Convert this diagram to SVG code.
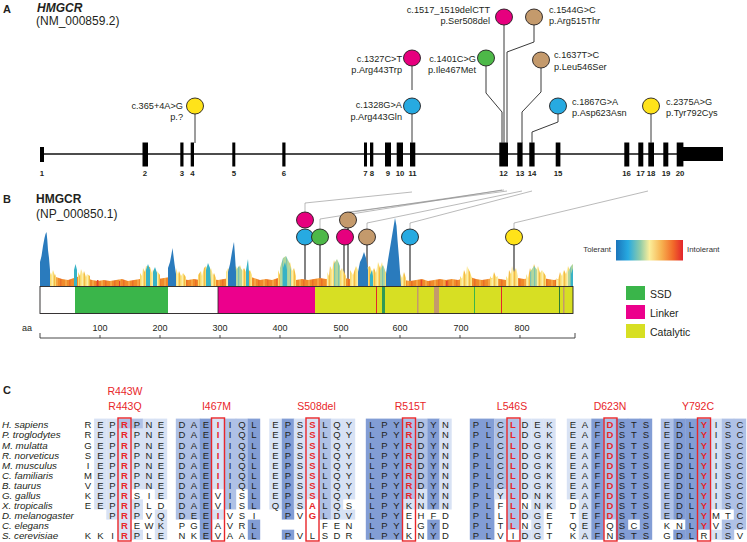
<svg xmlns="http://www.w3.org/2000/svg" width="747" height="542" viewBox="0 0 747 542">
<defs>
<linearGradient id="tol" x1="0" x2="1" y1="0" y2="0">
<stop offset="0" stop-color="#1B75BB"/><stop offset="0.18" stop-color="#27AAE1"/><stop offset="0.36" stop-color="#8ECBA9"/><stop offset="0.5" stop-color="#FBEE9B"/><stop offset="0.68" stop-color="#F7B250"/><stop offset="0.85" stop-color="#F26B2A"/><stop offset="1" stop-color="#E2242B"/>
</linearGradient>
<pattern id="orng" width="9" height="80" patternUnits="userSpaceOnUse"><rect width="9" height="80" fill="#F08A2A"/><rect x="2" width="2" height="80" fill="#F5A443"/><rect x="6" width="1.5" height="80" fill="#EA6F27"/></pattern>
<pattern id="yel" width="5" height="80" patternUnits="userSpaceOnUse"><rect width="5" height="80" fill="#F9DB6E"/><rect x="1.5" width="1.5" height="80" fill="#FCEDAA"/><rect x="4" width="1" height="80" fill="#F4B948"/></pattern>
<pattern id="grn" width="4" height="80" patternUnits="userSpaceOnUse"><rect width="4" height="80" fill="#B3D79C"/><rect x="2" width="1.2" height="80" fill="#7CC4B0"/></pattern>
</defs>
<style>
text{font-family:"Liberation Sans",Arial,sans-serif;fill:#231F20}
.lab{font-size:9.2px}
.end{text-anchor:end}
.num{font-size:7.8px;font-weight:bold;text-anchor:middle}
.ttl{font-size:12px;font-weight:bold}
.sub{font-size:12px}
.al{font-size:9.5px;text-anchor:middle}
.r{fill:#E8262A;font-weight:bold}
.sp{font-size:9.8px;font-style:italic}
.hd{font-size:10.5px;fill:#E8262A;text-anchor:middle}
.s1{fill:#D8E2F4}.s2{fill:#AFC1E6}.s3{fill:#829DD5}
.stem{fill:none;stroke:#3a3a3a;stroke-width:1}
.conn{fill:none;stroke:#8C8C8C;stroke-width:0.6}
.pin{stroke:#231F20;stroke-width:0.9}
.box{fill:none;stroke:#E8262A;stroke-width:1.4}
.ye{fill:#FFE31A}.mg{fill:#E6007E}.bl{fill:#27AAE1}.gr{fill:#4DB848}.br{fill:#C49A6C}
.tick{font-size:9px;text-anchor:middle}
.leg{font-size:10.5px}
.tl{font-size:7.8px;fill:#333}
</style>

<g id="titles">
<text x="3" y="13" class="ttl" style="font-size:11px">A</text>
<text x="37" y="12" class="ttl" style="font-style:italic">HMGCR</text>
<text x="36" y="25" class="sub">(NM_000859.2)</text>
<text x="3" y="203" class="ttl" style="font-size:11px">B</text>
<text x="36" y="203" class="ttl">HMGCR</text>
<text x="36" y="218" class="sub">(NP_000850.1)</text>
<text x="3" y="394" class="ttl" style="font-size:11px">C</text>
</g>

<g id="gene">
<line x1="42" y1="154" x2="683" y2="154" stroke="#111" stroke-width="1.3"/>
<g fill="#000">
<rect x="40" y="147" width="4" height="15"/>
<rect x="142.5" y="142.5" width="5.5" height="24"/>
<rect x="180.3" y="142.5" width="3.2" height="24"/>
<rect x="190.7" y="142.5" width="3.3" height="24"/>
<rect x="232.3" y="142.5" width="3" height="24"/>
<rect x="282.3" y="142.5" width="3.2" height="24"/>
<rect x="364" y="142.5" width="3" height="24"/>
<rect x="370" y="142.5" width="3.3" height="24"/>
<rect x="385" y="142.5" width="6" height="24"/>
<rect x="396.7" y="142.5" width="6.3" height="24"/>
<rect x="410" y="142.5" width="5.3" height="24"/>
<rect x="499.3" y="142.5" width="8.7" height="24"/>
<rect x="517.3" y="142.5" width="5.3" height="24"/>
<rect x="529.3" y="142.5" width="5.3" height="24"/>
<rect x="555.7" y="142.5" width="4.7" height="24"/>
<rect x="624.3" y="142.5" width="5" height="24"/>
<rect x="638.3" y="142.5" width="5" height="24"/>
<rect x="648.3" y="142.5" width="5.7" height="24"/>
<rect x="663.3" y="142.5" width="5" height="24"/>
<rect x="676.7" y="142.5" width="6.7" height="24"/>
<rect x="683" y="147" width="40" height="14"/>
</g>
<g>
<text class="num" x="42" y="176">1</text><text class="num" x="145" y="176">2</text><text class="num" x="182" y="176">3</text><text class="num" x="192.5" y="176">4</text><text class="num" x="234" y="176">5</text><text class="num" x="284" y="176">6</text><text class="num" x="365.5" y="176">7</text><text class="num" x="372" y="176">8</text><text class="num" x="388" y="176">9</text><text class="num" x="400" y="176">10</text><text class="num" x="412.5" y="176">11</text><text class="num" x="503.5" y="176">12</text><text class="num" x="520" y="176">13</text><text class="num" x="532" y="176">14</text><text class="num" x="558" y="176">15</text><text class="num" x="626.5" y="176">16</text><text class="num" x="640.5" y="176">17</text><text class="num" x="651" y="176">18</text><text class="num" x="666" y="176">19</text><text class="num" x="680" y="176">20</text>
</g>
</g>

<g id="connectors">
<path class="stem" stroke="#666" d="M195 114V143"/>
<path class="stem" d="M412 114V143"/>
<path class="stem" d="M412 66V90"/>
<path class="stem" d="M486 66V93L502 112V143"/>
<path class="stem" d="M504 25V143"/>
<path class="stem" d="M534 25V42L507 52V143"/>
<path class="stem" d="M541 68V92L522 112V143"/>
<path class="stem" d="M558 114V122L532 132V143"/>
<path class="stem" d="M651 114V143"/>
<path class="conn" d="M305 212V203L412 192"/>
<path class="conn" d="M320 229V219L502 190"/>
<path class="conn" d="M346 213L504 190"/>
<path class="conn" d="M349 212L507 191"/>
<path class="conn" d="M367 229V223L522 191"/>
<path class="conn" d="M410 229V223L532 191"/>
<path class="conn" d="M514 229V223L648 191"/>
<g class="stem" style="stroke:#333;stroke-width:1.2">
<path d="M305 245V286M320 245V286M344 245V286M348 228V286M367 245V286M410 245V286M514 245V286"/>
</g>
</g>

<g id="variantsA">
<g id="v365"><ellipse class="ye pin" cx="195" cy="106" rx="8.5" ry="8"/><text class="lab end" x="183" y="109">c.365+4A&gt;G</text><text class="lab end" x="183" y="120">p.?</text></g>
<g id="v1328"><ellipse class="bl pin" cx="412" cy="106" rx="8.5" ry="8"/><text class="lab end" x="402" y="108">c.1328G&gt;A</text><text class="lab end" x="402" y="120">p.Arg443Gln</text></g>
<g id="v1327"><ellipse class="mg pin" cx="412" cy="58" rx="8.5" ry="8"/><text class="lab end" x="402" y="61.5">c.1327C&gt;T</text><text class="lab end" x="402" y="73">p.Arg443Trp</text></g>
<g id="v1401"><ellipse class="gr pin" cx="486" cy="58" rx="8.5" ry="8"/><text class="lab end" x="476" y="61.5">c.1401C&gt;G</text><text class="lab end" x="476" y="73">p.Ile467Met</text></g>
<g id="v1517"><ellipse class="mg pin" cx="504" cy="17" rx="8.5" ry="8"/><text class="lab end" x="490" y="13">c.1517_1519delCTT</text><text class="lab end" x="490" y="24">p.Ser508del</text></g>
<g id="v1544"><ellipse class="br pin" cx="534" cy="17" rx="8.5" ry="8"/><text class="lab" x="549" y="13">c.1544G&gt;C</text><text class="lab" x="549" y="24">p.Arg515Thr</text></g>
<g id="v1637"><ellipse class="br pin" cx="541" cy="60" rx="8.5" ry="8"/><text class="lab" x="554" y="58">c.1637T&gt;C</text><text class="lab" x="554" y="70">p.Leu546Ser</text></g>
<g id="v1867"><ellipse class="bl pin" cx="558" cy="106" rx="8.5" ry="8"/><text class="lab" x="572" y="105">c.1867G&gt;A</text><text class="lab" x="572" y="116">p.Asp623Asn</text></g>
<g id="v2375"><ellipse class="ye pin" cx="651" cy="106" rx="8.5" ry="8"/><text class="lab" x="666" y="105">c.2375A&gt;G</text><text class="lab" x="666" y="116">p.Tyr792Cys</text></g>
</g>

<g id="tolerance">
<polygon fill="url(#orng)" points="40,286 40,280 50,279 56,277 62,279 68,280 74,278 80,276 86,278 92,280 98,281 104,280 110,281 116,280 122,279 128,281 134,280 140,279 146,277 152,276 158,279 164,278 170,277 176,276 182,279 188,280 194,279 200,280 206,278 212,279 218,280 224,279 230,278 236,277 242,278 248,276 254,278 260,280 266,279 272,280 278,278 284,277 290,279 296,280 302,279 308,280 314,279 320,278 326,279 332,278 338,277 344,278 350,279 356,278 362,277 368,278 374,277 380,279 386,279 392,278 398,280 404,280 410,281 416,280 422,279 428,281 434,280 440,279 446,280 452,279 458,280 464,278 470,277 476,279 482,280 488,279 494,278 500,279 506,280 512,279 518,278 524,279 530,278 536,277 542,278 548,279 554,280 560,279 566,277 573,276 573,286"/>
<g fill="#E5432A"><rect x="97" y="280" width="1.5" height="6"/><rect x="119" y="281" width="1.2" height="5"/><rect x="292" y="280" width="1.2" height="6"/><rect x="421" y="280" width="1.2" height="6"/><rect x="446" y="281" width="1.5" height="5"/></g>
<g fill="url(#yel)">
<polygon points="50,286 50,272 51,275 53,270 55,276 56,274 56,286"/>
<polygon points="78,286 78,272 80,276 81,269 83,274 84,271 86,277 87,274 90,276 90,286"/>
<polygon points="140,286 140,273 142,276 143,268 145,272 146,266 150,267 152,273 153,269 155,275 157,271 160,275 160,286"/>
<polygon points="176,286 176,268 178,274 179,271 181,276 183,273 186,277 186,286"/>
<polygon points="198,286 198,275 201,271 202,276 204,268 206,266 209,272 211,268 213,275 214,273 216,278 216,286"/>
<polygon points="226,286 226,272 228,268 231,273 236,266 238,272 240,265 242,271 244,268 247,274 250,270 252,275 252,286"/>
<polygon points="278,286 278,270 280,275 282,262 284,268 286,258 288,266 290,262 292,271 294,268 296,276 296,286"/>
<polygon points="327,286 327,272 329,276 330,266 332,270 334,260 336,268 338,262 340,271 342,268 346,276 346,286"/>
<polygon points="350,286 350,270 353,275 356,266 359,272 370,266 372,272 374,268 376,273 378,262 380,268 382,262 384,270 386,272 386,286"/>
<polygon points="400,286 400,274 402,278 404,272 406,278 406,286"/>
<polygon points="460,286 460,276 462,279 464,270 466,275 467,266 470,272 472,278 472,286"/>
<polygon points="490,286 490,276 492,279 494,272 496,277 498,276 498,286"/>
<polygon points="506,286 506,276 508,279 509,270 511,274 512,266 514,272 516,268 518,276 518,286"/>
<polygon points="526,286 526,274 528,278 530,268 532,272 534,264 536,270 538,266 540,273 542,270 546,276 546,286"/>
<polygon points="556,286 556,278 558,280 560,272 562,276 564,270 566,274 568,266 570,271 573,264 573,286"/>
</g>
<g fill="url(#grn)">
<polygon points="280,286 280,268 283,258 286,256 289,262 291,270 291,286"/>
<polygon points="236,286 236,270 239,266 242,270 242,286"/>
<polygon points="334,286 334,264 337,259 340,266 340,286"/>
<polygon points="380,286 380,270 383,265 385,270 385,286"/>
<polygon points="530,286 530,272 534,266 537,270 537,286"/>
<polygon points="568,286 568,272 571,266 573,264 573,286"/>
</g>
<g fill="#37B2C6">
<polygon points="74,286 74,270 75.5,264 77,270 77,286"/>
<polygon points="146,286 146,270 148,264 150,270 150,286"/>
<polygon points="153,286 153,272 155,267 157,273 157,286"/>
<polygon points="206,286 206,270 208,263 210,268 211,286"/>
<polygon points="246,286 246,270 248,259 249,272 249,286"/>
<polygon points="283,286 283,268 285,262 287,270 287,286"/>
<polygon points="370,286 370,275 372,270 373,276 373,286"/>
<polygon points="571,286 571,274 573,268 573,286"/>
</g>
<g fill="#2A7BBD">
<polygon points="40,286 40,262 41.5,256 43,246 44.5,238 45.5,234 46.5,232 47.3,240 48,250 49,258 50,270 50,286"/>
<polygon points="168,286 168,268 170,262 171.5,254 172.5,248 173.5,256 174.5,264 176,274 176,286"/>
<polygon points="228,286 228,272 230,264 232,252 233.5,244 234,242 235,256 236,272 236,286"/>
<polygon points="358,286 358,272 360,262 362,258 364,252 366,258 368,270 368,286"/>
<polygon points="386,286 386,274 388,260 390,248 392,236 394,224 395,218 396.5,226 397.5,240 399,258 400,272 401,286"/>
</g>
</g>

<g id="domains">
<rect x="40" y="286.5" width="533" height="27" fill="#fff"/>
<rect x="75" y="286.5" width="93" height="27" fill="#3AB54A"/>
<rect x="218" y="286.5" width="97" height="27" fill="#EC008C"/>
<rect x="315" y="286.5" width="258" height="27" fill="#D7DF23"/>
<rect x="376" y="286.5" width="1" height="27" fill="#E4262C"/>
<rect x="501" y="286.5" width="1" height="27" fill="#E4262C"/>
<rect x="382" y="286.5" width="3" height="27" fill="#2F9A55"/>
<rect x="417" y="286.5" width="1.5" height="27" fill="#C49A6C"/>
<rect x="434" y="286.5" width="5" height="27" fill="#C49A6C"/>
<rect x="474" y="286.5" width="1" height="27" fill="#3AB54A"/>
<rect x="559" y="286.5" width="1" height="27" fill="#2E7D32"/>
<rect x="563" y="286.5" width="1.5" height="27" fill="#C49A6C"/>
<rect x="40" y="286.5" width="533" height="27" fill="none" stroke="#231F20" stroke-width="0.9"/>
<line x1="218" y1="286.5" x2="218" y2="313.5" stroke="#231F20" stroke-width="0.8"/>
</g>

<g id="axis">
<text x="22" y="331" style="font-size:9px">aa</text>
<path d="M40 333V338H575V333M100 338V335M160 338V335M220 338V335M280 338V335M340 338V335M400 338V335M460 338V335M520 338V335" fill="none" stroke="#333" stroke-width="0.9"/>
<text class="tick" x="100" y="331">100</text><text class="tick" x="160" y="331">200</text><text class="tick" x="220" y="331">300</text><text class="tick" x="280" y="331">400</text><text class="tick" x="341" y="331">500</text><text class="tick" x="400" y="331">600</text><text class="tick" x="461" y="331">700</text><text class="tick" x="522" y="331">800</text>
</g>

<g id="variantsB">
<g id="pR443W"><ellipse class="mg pin" cx="305" cy="220" rx="8.5" ry="8"/></g>
<g id="pR443Q"><ellipse class="bl pin" cx="305" cy="237" rx="8.5" ry="8"/></g>
<g id="pI467M"><ellipse class="gr pin" cx="320" cy="237" rx="8.5" ry="8"/></g>
<g id="pR515T"><ellipse class="br pin" cx="348" cy="220" rx="8.5" ry="8"/></g>
<g id="pS508del"><ellipse class="mg pin" cx="345" cy="237" rx="8.5" ry="8"/></g>
<g id="pL546S"><ellipse class="br pin" cx="367" cy="237" rx="8.5" ry="8"/></g>
<g id="pD623N"><ellipse class="bl pin" cx="410" cy="237" rx="8.5" ry="8"/></g>
<g id="pY792C"><ellipse class="ye pin" cx="514" cy="237" rx="8.5" ry="8"/></g>
</g>

<g id="legend">
<text class="tl end" x="611" y="252">Tolerant</text>
<rect x="616" y="240" width="67" height="20.5" fill="url(#tol)"/>
<text class="tl" x="687" y="252">Intolerant</text>
<rect x="626" y="286" width="19" height="14" fill="#3AB54A"/><text class="leg" x="650" y="298">SSD</text>
<rect x="626" y="305" width="19" height="14" fill="#EC008C"/><text class="leg" x="650" y="317">Linker</text>
<rect x="626" y="324" width="19" height="14" fill="#D7DF23"/><text class="leg" x="650" y="336">Catalytic</text>
</g>

<g id="shading">
<rect class="s1" x="94.1" y="418.6" width="12.4" height="90.9"/>
<rect class="s1" x="106.3" y="418.6" width="12.4" height="101"/>
<rect class="s2" x="118.3" y="418.6" width="12.4" height="10.1"/>
<rect class="s1" x="118.3" y="428.7" width="12.4" height="111.1"/>
<rect class="s2" x="130.6" y="418.6" width="12.4" height="10.1"/>
<rect class="s1" x="130.6" y="428.7" width="12.4" height="60.6"/>
<rect class="s1" x="130.6" y="499.4" width="12.4" height="20.2"/>
<rect class="s1" x="130.6" y="529.7" width="12.4" height="10.1"/>
<rect class="s1" x="142.8" y="418.6" width="12.4" height="70.7"/>
<rect class="s1" x="154.8" y="418.6" width="12.4" height="80.8"/>
<rect class="s1" x="154.8" y="509.5" width="12.4" height="30.3"/>
<rect class="s2" x="175.8" y="418.6" width="24.5" height="101"/>
<rect class="s3" x="199.8" y="418.6" width="12.4" height="121.2"/>
<rect class="s1" x="211.8" y="418.6" width="12.4" height="70.7"/>
<rect class="s1" x="211.8" y="509.5" width="12.4" height="10.1"/>
<rect class="s2" x="223.8" y="418.6" width="12.4" height="90.9"/>
<rect class="s2" x="235.8" y="418.6" width="12.4" height="70.7"/>
<rect class="s3" x="247.8" y="418.6" width="12.4" height="90.9"/>
<rect class="s3" x="247.8" y="519.6" width="12.4" height="20.2"/>
<rect class="s1" x="269.3" y="418.6" width="12.6" height="90.9"/>
<rect class="s3" x="281.8" y="418.6" width="12.4" height="101"/>
<rect class="s3" x="281.8" y="529.7" width="12.4" height="10.1"/>
<rect class="s1" x="293.8" y="418.6" width="12.6" height="90.9"/>
<rect class="s1" x="306.3" y="418.6" width="12.6" height="80.8"/>
<rect class="s2" x="318.8" y="418.6" width="12.4" height="101"/>
<rect class="s1" x="330.8" y="418.6" width="12.4" height="101"/>
<rect class="s1" x="342.8" y="418.6" width="12.4" height="80.8"/>
<rect class="s1" x="342.8" y="509.5" width="12.4" height="10.1"/>
<rect class="s3" x="365.8" y="418.6" width="37" height="121.2"/>
<rect class="s2" x="402.8" y="418.6" width="12.4" height="80.8"/>
<rect class="s1" x="402.8" y="499.4" width="12.4" height="10.1"/>
<rect class="s2" x="414.8" y="418.6" width="12.6" height="70.7"/>
<rect class="s1" x="414.8" y="489.3" width="12.6" height="20.2"/>
<rect class="s3" x="427.3" y="418.6" width="12.4" height="90.9"/>
<rect class="s3" x="427.3" y="519.6" width="12.4" height="20.2"/>
<rect class="s1" x="439.3" y="418.6" width="12.4" height="90.9"/>
<rect class="s3" x="469.8" y="418.6" width="24.6" height="121.2"/>
<rect class="s2" x="494.3" y="418.6" width="12.6" height="70.7"/>
<rect class="s1" x="494.3" y="489.3" width="12.6" height="10.1"/>
<rect class="s2" x="506.8" y="418.6" width="12.4" height="111.1"/>
<rect class="s1" x="518.8" y="418.6" width="12.6" height="80.8"/>
<rect class="s1" x="518.8" y="509.5" width="12.6" height="10.1"/>
<rect class="s1" x="518.8" y="529.7" width="12.6" height="10.1"/>
<rect class="s1" x="531.3" y="418.6" width="12.4" height="121.2"/>
<rect class="s1" x="543.3" y="418.6" width="12.4" height="90.9"/>
<rect class="s1" x="566.8" y="418.6" width="12.4" height="80.8"/>
<rect class="s1" x="578.8" y="418.6" width="12.6" height="121.2"/>
<rect class="s3" x="591.3" y="418.6" width="12.6" height="121.2"/>
<rect class="s2" x="603.8" y="418.6" width="12.4" height="101"/>
<rect class="s3" x="615.8" y="418.6" width="12.4" height="121.2"/>
<rect class="s3" x="627.8" y="418.6" width="12.4" height="101"/>
<rect class="s3" x="627.8" y="529.7" width="12.4" height="10.1"/>
<rect class="s3" x="639.8" y="418.6" width="12.4" height="121.2"/>
<rect class="s2" x="660.8" y="418.6" width="12.6" height="101"/>
<rect class="s3" x="673.3" y="418.6" width="12.4" height="101"/>
<rect class="s3" x="673.3" y="529.7" width="12.4" height="10.1"/>
<rect class="s3" x="685.3" y="418.6" width="12.6" height="121.2"/>
<rect class="s3" x="697.8" y="418.6" width="12.4" height="111.1"/>
<rect class="s1" x="709.8" y="418.6" width="12.4" height="90.9"/>
<rect class="s1" x="709.8" y="529.7" width="12.4" height="10.1"/>
<rect class="s2" x="721.8" y="418.6" width="12.4" height="90.9"/>
<rect class="s2" x="721.8" y="519.6" width="12.4" height="20.2"/>
<rect class="s2" x="733.8" y="418.6" width="12.4" height="111.1"/>
</g>

<g id="headers">
<text class="hd" x="125" y="395">R443W</text>
<text class="hd" x="125" y="410">R443Q</text>
<text class="hd" x="216.5" y="410">I467M</text>
<text class="hd" x="316.5" y="410">S508del</text>
<text class="hd" x="410.5" y="410">R515T</text>
<text class="hd" x="512" y="410">L546S</text>
<text class="hd" x="610" y="410">D623N</text>
<text class="hd" x="698" y="410">Y792C</text>
</g>

<g id="species">
<text class="sp" x="2" y="428.3">H. sapiens</text>
<text class="sp" x="2" y="438.4">P. troglodytes</text>
<text class="sp" x="2" y="448.5">M. mulatta</text>
<text class="sp" x="2" y="458.6">R. norveticus</text>
<text class="sp" x="2" y="468.7">M. musculus</text>
<text class="sp" x="2" y="478.8">C. familiaris</text>
<text class="sp" x="2" y="488.9">B. taurus</text>
<text class="sp" x="2" y="499">G. gallus</text>
<text class="sp" x="2" y="509.1">X. tropicalis</text>
<text class="sp" x="2" y="519.2">D. melanogaster</text>
<text class="sp" x="2" y="529.3">C. elegans</text>
<text class="sp" x="2" y="539.4">S. cerevisiae</text>
</g>

<g id="alignment">
<text class="al" y="428.3" x="88 100.3 112.5 124.5 136.8 149 161 182 194 206 218 230 242 254 275.5 288 300 312.5 325 337 349 372 384.5 396.5 409 421 433.5 445.5 476 488.5 500.5 513 525 537.5 549.5 573 585 597.5 610 622 634 646 667 679.5 691.5 704 716 728 740">REP<tspan class="r">R</tspan>PNEDAE<tspan class="r">I</tspan>IQLEPS<tspan class="r">S</tspan>LQYLPY<tspan class="r">R</tspan>DYNPLC<tspan class="r">L</tspan>DEKEAF<tspan class="r">D</tspan>STSEDL<tspan class="r">Y</tspan>ISC</text>
<text class="al" y="438.4" x="88 100.3 112.5 124.5 136.8 149 161 182 194 206 218 230 242 254 275.5 288 300 312.5 325 337 349 372 384.5 396.5 409 421 433.5 445.5 476 488.5 500.5 513 525 537.5 549.5 573 585 597.5 610 622 634 646 667 679.5 691.5 704 716 728 740">REP<tspan class="r">R</tspan>PNEDAE<tspan class="r">I</tspan>IQLEPS<tspan class="r">S</tspan>LQYLPY<tspan class="r">R</tspan>DYNPLC<tspan class="r">L</tspan>DGKEAF<tspan class="r">D</tspan>STSEDL<tspan class="r">Y</tspan>ISC</text>
<text class="al" y="448.5" x="88 100.3 112.5 124.5 136.8 149 161 182 194 206 218 230 242 254 275.5 288 300 312.5 325 337 349 372 384.5 396.5 409 421 433.5 445.5 476 488.5 500.5 513 525 537.5 549.5 573 585 597.5 610 622 634 646 667 679.5 691.5 704 716 728 740">GEP<tspan class="r">R</tspan>PNEDAE<tspan class="r">I</tspan>IQLEPS<tspan class="r">S</tspan>LQYLPY<tspan class="r">R</tspan>DYNPLC<tspan class="r">L</tspan>DGKEAF<tspan class="r">D</tspan>STSEDL<tspan class="r">Y</tspan>ISC</text>
<text class="al" y="458.6" x="88 100.3 112.5 124.5 136.8 149 161 182 194 206 218 230 242 254 275.5 288 300 312.5 325 337 349 372 384.5 396.5 409 421 433.5 445.5 476 488.5 500.5 513 525 537.5 549.5 573 585 597.5 610 622 634 646 667 679.5 691.5 704 716 728 740">SEP<tspan class="r">R</tspan>PNEDAE<tspan class="r">I</tspan>IQLEPS<tspan class="r">S</tspan>LQYLPY<tspan class="r">R</tspan>DYNPLC<tspan class="r">L</tspan>DGKEAF<tspan class="r">D</tspan>STSEDL<tspan class="r">Y</tspan>ISC</text>
<text class="al" y="468.7" x="88 100.3 112.5 124.5 136.8 149 161 182 194 206 218 230 242 254 275.5 288 300 312.5 325 337 349 372 384.5 396.5 409 421 433.5 445.5 476 488.5 500.5 513 525 537.5 549.5 573 585 597.5 610 622 634 646 667 679.5 691.5 704 716 728 740">IEP<tspan class="r">R</tspan>PNEDAE<tspan class="r">I</tspan>IQLEPS<tspan class="r">S</tspan>LQYLPY<tspan class="r">R</tspan>DYNPLC<tspan class="r">L</tspan>DGKEAF<tspan class="r">D</tspan>STSEDL<tspan class="r">Y</tspan>ISC</text>
<text class="al" y="478.8" x="88 100.3 112.5 124.5 136.8 149 161 182 194 206 218 230 242 254 275.5 288 300 312.5 325 337 349 372 384.5 396.5 409 421 433.5 445.5 476 488.5 500.5 513 525 537.5 549.5 573 585 597.5 610 622 634 646 667 679.5 691.5 704 716 728 740">MEP<tspan class="r">R</tspan>PNEDAE<tspan class="r">I</tspan>IQLEPS<tspan class="r">S</tspan>LQYLPY<tspan class="r">R</tspan>DYNPLC<tspan class="r">L</tspan>DGKEAF<tspan class="r">D</tspan>STSEDL<tspan class="r">Y</tspan>ISC</text>
<text class="al" y="488.9" x="88 100.3 112.5 124.5 136.8 149 161 182 194 206 218 230 242 254 275.5 288 300 312.5 325 337 349 372 384.5 396.5 409 421 433.5 445.5 476 488.5 500.5 513 525 537.5 549.5 573 585 597.5 610 622 634 646 667 679.5 691.5 704 716 728 740">VEP<tspan class="r">R</tspan>PNEDAE<tspan class="r">I</tspan>IQLEPS<tspan class="r">S</tspan>LQYLPY<tspan class="r">R</tspan>DYNPLC<tspan class="r">L</tspan>DGKEAF<tspan class="r">D</tspan>STSEDL<tspan class="r">Y</tspan>ISC</text>
<text class="al" y="499" x="88 100.3 112.5 124.5 136.8 149 161 182 194 206 218 230 242 254 275.5 288 300 312.5 325 337 349 372 384.5 396.5 409 421 433.5 445.5 476 488.5 500.5 513 525 537.5 549.5 573 585 597.5 610 622 634 646 667 679.5 691.5 704 716 728 740">KEP<tspan class="r">R</tspan>SIEDAEVISLEPS<tspan class="r">S</tspan>LQYLPY<tspan class="r">R</tspan>NYNPLY<tspan class="r">L</tspan>DNKEAF<tspan class="r">D</tspan>STSEDL<tspan class="r">Y</tspan>ISC</text>
<text class="al" y="509.1" x="88 100.3 112.5 124.5 136.8 149 161 182 194 206 218 230 242 254 275.5 288 300 312.5 325 337 349 372 384.5 396.5 409 421 433.5 445.5 476 488.5 500.5 513 525 537.5 549.5 573 585 597.5 610 622 634 646 667 679.5 691.5 704 716 728 740">EEP<tspan class="r">R</tspan>PLDDAEVISLQPS<tspan class="r">A</tspan>LQSLPYKNYNPLF<tspan class="r">L</tspan>NNKDAF<tspan class="r">D</tspan>STSEDL<tspan class="r">Y</tspan>ISC</text>
<text class="al" y="519.2" x="112.5 124.5 136.8 149 161 182 194 206 218 230 242 254 288 300 312.5 325 337 349 372 384.5 396.5 409 421 433.5 445.5 476 488.5 500.5 513 525 537.5 549.5 573 585 597.5 610 622 634 646 667 679.5 691.5 704 716 728 740">P<tspan class="r">R</tspan>PVQDEE<tspan class="r">I</tspan>VSIPV<tspan class="r">G</tspan>LDVLPYEHFDPLL<tspan class="r">L</tspan>DGETEF<tspan class="r">D</tspan>STSEDL<tspan class="r">Y</tspan>MTC</text>
<text class="al" y="529.3" x="124.5 136.8 149 161 182 194 206 218 230 242 254 325 337 349 372 384.5 396.5 409 421 433.5 445.5 476 488.5 500.5 513 525 537.5 549.5 573 585 597.5 610 622 634 646 667 679.5 691.5 704 716 728 740"><tspan class="r">R</tspan>EWKPGEAVRLFENLPYLGYDPLT<tspan class="r">L</tspan>NGTQEFQSCSKNL<tspan class="r">Y</tspan>VSC</text>
<text class="al" y="539.4" x="88 100.3 112.5 124.5 136.8 149 161 182 194 206 218 230 242 254 288 300 312.5 325 337 349 372 384.5 396.5 409 421 433.5 445.5 476 488.5 500.5 513 525 537.5 549.5 573 585 597.5 610 622 634 646 667 679.5 691.5 704 716 728 740">KKI<tspan class="r">R</tspan>PLENKEVAALPVLSDRLPYKNYDPLVIDGTKAFNSTSGDLRISV</text>
</g>

<g id="boxes">
<rect class="box" x="118" y="418" width="13" height="123"/>
<rect class="box" x="211.5" y="418" width="13" height="123"/>
<rect class="box" x="306" y="418" width="13" height="123"/>
<rect class="box" x="402.5" y="418" width="13" height="123"/>
<rect class="box" x="507" y="418" width="13" height="123"/>
<rect class="box" x="604" y="418" width="13" height="123"/>
<rect class="box" x="697.5" y="418" width="13" height="123"/>
</g>
</svg>
